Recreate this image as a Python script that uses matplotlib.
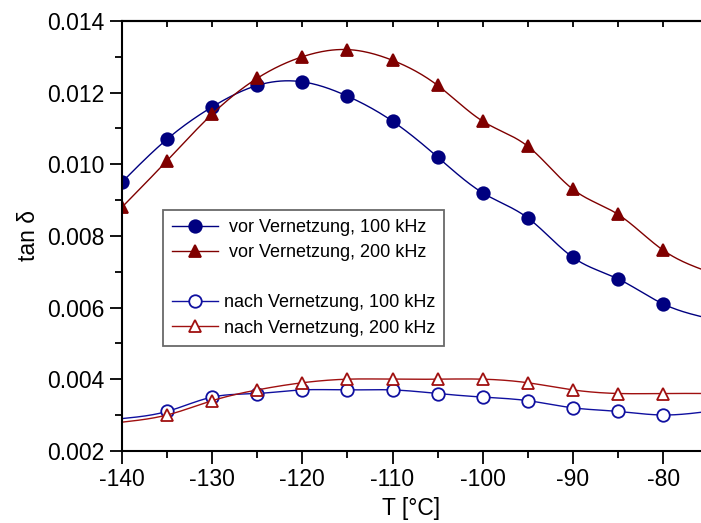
import numpy as np
import matplotlib.pyplot as plt
from matplotlib.ticker import MultipleLocator, FormatStrFormatter, NullFormatter

plt.rcParams['font.family'] = ['Liberation Sans', 'DejaVu Sans']
plt.rcParams['axes.unicode_minus'] = False

# Temperaturen in °C (letzter Punkt liegt ausserhalb des Achsenbereichs)
T = [-140, -135, -130, -125, -120, -115, -110, -105, -100, -95, -90, -85, -80, -75]

vor_100 = [0.0095, 0.0107, 0.0116, 0.0122, 0.0123, 0.0119, 0.0112, 0.0102,
           0.0092, 0.0085, 0.0074, 0.0068, 0.0061, 0.0057]
vor_200 = [0.0088, 0.0101, 0.0114, 0.0124, 0.0130, 0.0132, 0.0129, 0.0122,
           0.0112, 0.0105, 0.0093, 0.0086, 0.0076, 0.0070]
nach_100 = [0.0029, 0.0031, 0.0035, 0.0036, 0.0037, 0.0037, 0.0037, 0.0036,
            0.0035, 0.0034, 0.0032, 0.0031, 0.0030, 0.0031]
nach_200 = [0.0028, 0.0030, 0.0034, 0.0037, 0.0039, 0.0040, 0.0040, 0.0040,
            0.0040, 0.0039, 0.0037, 0.0036, 0.0036, 0.0036]


def spline(x, y, n=400):
    # natuerlicher kubischer Spline
    x = np.asarray(x, float)
    y = np.asarray(y, float)
    k = len(x)
    h = np.diff(x)
    A = np.zeros((k, k))
    b = np.zeros(k)
    A[0, 0] = A[-1, -1] = 1
    for i in range(1, k - 1):
        A[i, i - 1] = h[i - 1]
        A[i, i] = 2 * (h[i - 1] + h[i])
        A[i, i + 1] = h[i]
        b[i] = 3 * ((y[i + 1] - y[i]) / h[i] - (y[i] - y[i - 1]) / h[i - 1])
    c = np.linalg.solve(A, b)
    xs = np.linspace(x[0], x[-1], n)
    idx = np.clip(np.searchsorted(x, xs) - 1, 0, k - 2)
    dx = xs - x[idx]
    bi = (y[idx + 1] - y[idx]) / h[idx] - h[idx] * (2 * c[idx] + c[idx + 1]) / 3
    di = (c[idx + 1] - c[idx]) / (3 * h[idx])
    ys = y[idx] + bi * dx + c[idx] * dx ** 2 + di * dx ** 3
    return xs, ys


blau = '#000080'
rot = '#800000'

fig = plt.figure(figsize=(7.01, 5.23), dpi=100)
ax = fig.add_axes([0.174, 0.138, 0.826, 0.822])

reihen = [
    (vor_100, blau, 'o', blau, None),
    (vor_200, rot, '^', rot, None),
    (nach_100, '#1010a0', 'o', 'white', slice(1, None)),
    (nach_200, '#a01010', '^', 'white', slice(1, None)),
]
handles = []
for y, farbe, m, fc, me in reihen:
    xs, ys = spline(T, y)
    ax.plot(xs, ys, '-', color=farbe, lw=1.0)
    ax.plot(T, y, m, color=farbe, mfc=fc, mec=farbe, ms=9, mew=1.3, markevery=me)
    h, = ax.plot([], [], '-', marker=m, color=farbe, mfc=fc, mec=farbe, ms=9, mew=1.3, lw=1.0)
    handles.append(h)

leer, = ax.plot([], [], ' ')
handles.insert(2, leer)
labels = [' vor Vernetzung, 100 kHz', ' vor Vernetzung, 200 kHz', '',
          'nach Vernetzung, 100 kHz', 'nach Vernetzung, 200 kHz']
leg = ax.legend(handles, labels, loc='upper left', bbox_to_anchor=(0.07, 0.56),
                fontsize=13.0, frameon=True, fancybox=False, edgecolor='#444444',
                handlelength=2.6, handletextpad=0.3, labelspacing=0.45,
                borderpad=0.5, borderaxespad=0)
leg.get_frame().set_linewidth(1.3)

ax.set_xlim(-140, -75.8)
ax.set_ylim(0.002, 0.014)
ax.xaxis.set_major_locator(MultipleLocator(10))
ax.xaxis.set_minor_locator(MultipleLocator(5))
ax.yaxis.set_major_locator(MultipleLocator(0.002))
ax.yaxis.set_minor_locator(MultipleLocator(0.001))
ax.yaxis.set_major_formatter(FormatStrFormatter('%.3f'))

ax.tick_params(which='both', direction='out', labelsize=16.5, width=1.3)
ax.tick_params(which='major', length=9)
ax.tick_params(which='minor', length=5)
for s in ax.spines.values():
    s.set_linewidth(1.5)
ax.spines['right'].set_visible(False)

# obere Achse: kurze Striche nach innen, ohne Beschriftung
oben = ax.secondary_xaxis('top')
oben.xaxis.set_major_locator(MultipleLocator(5))
oben.xaxis.set_major_formatter(NullFormatter())
oben.tick_params(direction='in', length=4, width=1.3)
oben.spines['top'].set_linewidth(1.5)

ax.set_xlabel('T [°C]', fontsize=16.5, labelpad=4)
ax.set_ylabel('tan δ', fontsize=16.5, labelpad=5)

fig.savefig('out.png', dpi=100)
